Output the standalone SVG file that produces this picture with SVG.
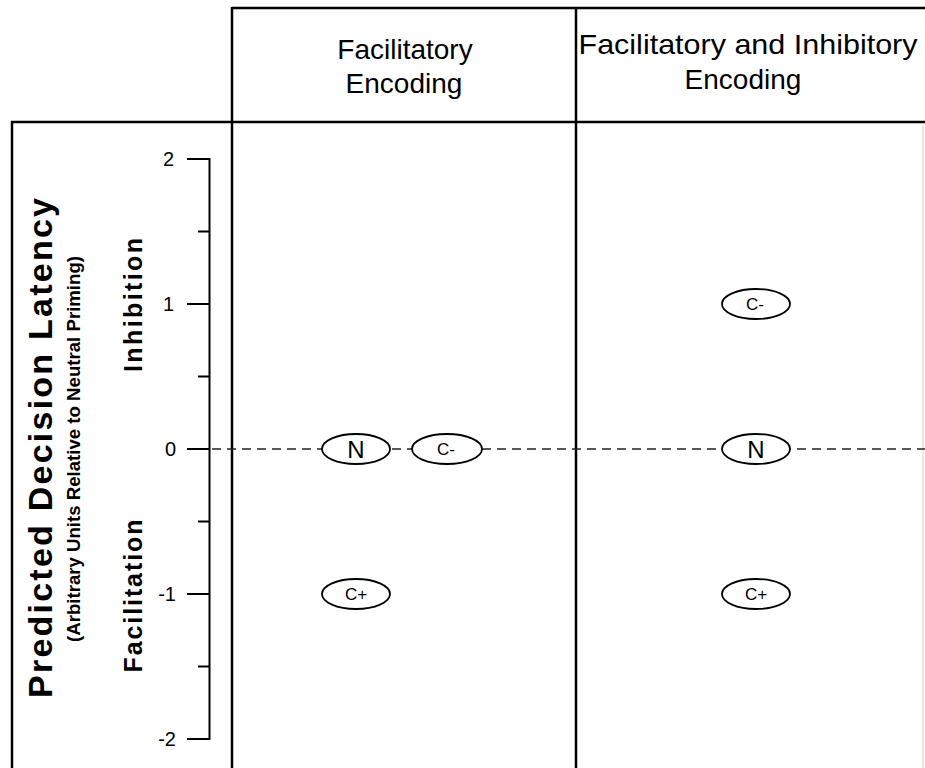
<svg xmlns="http://www.w3.org/2000/svg" width="925" height="768" viewBox="0 0 925 768">
<style>
.frame{stroke:#000;stroke-width:2.5;fill:none}
.axis{stroke:#000;stroke-width:2;fill:none}
.dash{stroke:#222;stroke-width:1.6;stroke-dasharray:9 6;fill:none}
.node ellipse{fill:#fff;stroke:#000;stroke-width:1.8}
.t{font-family:"Liberation Sans",Arial,Helvetica,sans-serif;fill:#000}
.hdr{font-size:28px;text-anchor:middle}
.tick{font-size:20px;text-anchor:end}
.big{font-size:24px;text-anchor:middle}
.small{font-size:17px;text-anchor:middle}
</style>
<rect width="925" height="768" fill="#fff"/>
<g id="frame">
<line class="frame" x1="232" y1="8" x2="925" y2="8"/>
<line class="frame" x1="11" y1="122" x2="925" y2="122"/>
<line class="frame" x1="12" y1="121" x2="12" y2="768"/>
<line class="frame" x1="232" y1="7" x2="232" y2="768"/>
<line class="frame" x1="576" y1="7" x2="576" y2="768"/>
<line x1="923" y1="125" x2="923" y2="768" stroke="#d0d0d0" stroke-width="1"/>
</g>
<g id="headers">
<text class="t hdr" x="405" y="59">Facilitatory</text>
<text class="t hdr" x="404" y="93">Encoding</text>
<text class="t hdr" x="748" y="54" textLength="339" lengthAdjust="spacingAndGlyphs">Facilitatory and Inhibitory</text>
<text class="t hdr" x="743" y="89">Encoding</text>
</g>
<g id="axis-titles">
<text class="t" transform="translate(52,448) rotate(-90)" text-anchor="middle" font-size="34" font-weight="bold" textLength="500" lengthAdjust="spacing">Predicted Decision Latency</text>
<text class="t" transform="translate(80,449) rotate(-90)" text-anchor="middle" font-size="18" font-weight="bold" textLength="386" lengthAdjust="spacingAndGlyphs">(Arbitrary Units Relative to Neutral Priming)</text>
<text class="t" transform="translate(142,305) rotate(-90)" text-anchor="middle" font-size="25" font-weight="bold" textLength="134" lengthAdjust="spacing">Inhibition</text>
<text class="t" transform="translate(142,596) rotate(-90)" text-anchor="middle" font-size="25" font-weight="bold" textLength="153" lengthAdjust="spacing">Facilitation</text>
</g>
<g id="y-axis">
<path class="axis" d="M187 159H209.5V739H187M198 231.5H209.5M187 304H209.5M198 376.5H209.5M187 449H209.5M198 521.5H209.5M187 594H209.5M198 666.5H209.5"/>
<text class="t tick" x="174" y="166">2</text>
<text class="t tick" x="174" y="311">1</text>
<text class="t tick" x="176" y="456">0</text>
<text class="t tick" x="176" y="601">-1</text>
<text class="t tick" x="176" y="746">-2</text>
</g>
<g id="connectors">
<line class="dash" x1="212" y1="449" x2="925" y2="449"/>
</g>
<g id="node-fac-N" class="node">
<ellipse cx="356" cy="449" rx="34" ry="15"/>
<text class="t big" x="356" y="458">N</text>
</g>
<g id="node-fac-Cminus" class="node">
<ellipse cx="447" cy="449" rx="35" ry="15"/>
<text class="t small" x="446" y="455">C-</text>
</g>
<g id="node-fac-Cplus" class="node">
<ellipse cx="356" cy="594" rx="34" ry="15"/>
<text class="t small" x="356" y="600">C+</text>
</g>
<g id="node-inh-Cminus" class="node">
<ellipse cx="756" cy="304" rx="34" ry="15"/>
<text class="t small" x="755" y="310">C-</text>
</g>
<g id="node-inh-N" class="node">
<ellipse cx="756" cy="449" rx="34" ry="15"/>
<text class="t big" x="756" y="458">N</text>
</g>
<g id="node-inh-Cplus" class="node">
<ellipse cx="756" cy="594" rx="34" ry="15"/>
<text class="t small" x="756" y="600">C+</text>
</g>
</svg>
